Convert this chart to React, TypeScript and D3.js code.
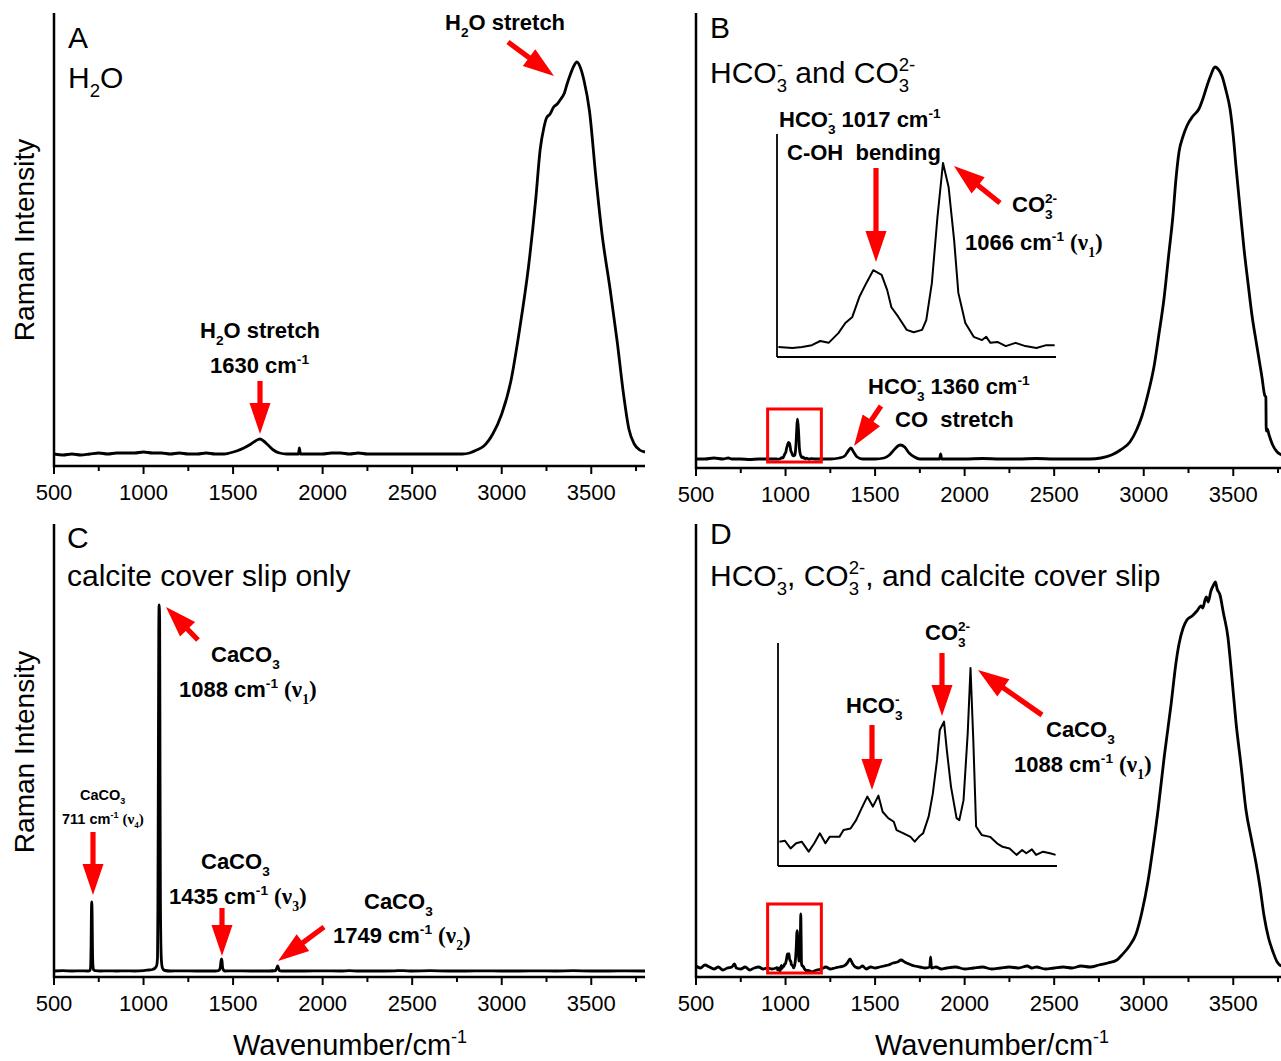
import React from "react";
import * as d3 from "d3";

type Pt = [number, number];

// [wavenumber cm-1, intensity a.u. above baseline]
const waterSpectrum: Pt[] = [
  [500, 0], [550, -1], [600, 0], [650, -1], [700, 0], [750, 1], [800, 0], [850, 1],
  [900, 1], [950, 1], [1000, 2], [1050, 1], [1100, 1], [1150, 0], [1200, 1], [1250, 0],
  [1300, 0], [1350, 1], [1400, 0], [1450, 0], [1480, 1], [1520, 3], [1560, 6], [1600, 10],
  [1625, 13], [1650, 15], [1670, 13], [1695, 9], [1725, 4], [1760, 1], [1800, 0], [1850, 0],
  [1865, 0], [1870, 6], [1876, 0], [1900, 0], [1950, 0], [2000, 0], [2050, 1], [2100, 1],
  [2150, 0], [2200, 1], [2250, 0], [2300, 0], [2400, 0], [2500, 0], [2600, 0], [2700, 0],
  [2780, 0], [2820, 1], [2860, 4], [2900, 8], [2950, 20], [3000, 40], [3050, 72], [3100, 125],
  [3150, 188], [3190, 255], [3215, 305], [3235, 326], [3250, 336], [3270, 340], [3290, 347],
  [3310, 350], [3330, 355], [3350, 361], [3365, 370], [3380, 378], [3400, 387], [3420, 392],
  [3440, 386], [3460, 373], [3490, 343], [3525, 278], [3560, 220], [3605, 165], [3645, 112],
  [3680, 60], [3710, 25], [3740, 10], [3770, 4], [3800, 2],
];

const bicarbSpectrum: Pt[] = [
  [500, 0], [550, 0], [600, 1], [650, 0], [680, 1], [700, 0], [750, 0], [800, -0.5],
  [850, 0], [900, 0], [925, 0],
  [948, 0], [958, -0.2], [965, 0], [972, 0.4], [978, 1.3], [984, 0.9], [991, 3], [996, 5.2],
  [1001, 6.5], [1006, 10.8], [1011, 13.8], [1016, 16.6], [1022, 15.6], [1026, 12.3],
  [1029, 8.6], [1034, 6.5], [1040, 3.7], [1045, 3.2], [1051, 3.7], [1054, 5.8], [1058, 13.8],
  [1062, 28], [1066, 39.8], [1070, 34.6], [1074, 23], [1077, 11.7], [1082, 5.2], [1088, 2.2],
  [1094, 1.5], [1097, 2.2], [1100, 0.9], [1105, 1.1], [1111, 0.2], [1118, 0.9], [1125, 0.2],
  [1133, -0.2], [1140, 0.4], [1146, 0.4],
  [1170, 0], [1200, 0], [1250, 0], [1300, 1], [1330, 3], [1350, 8], [1365, 11], [1380, 7],
  [1400, 2], [1430, 0], [1470, 0], [1500, 0], [1550, 1], [1580, 4], [1610, 10], [1640, 14],
  [1665, 12], [1690, 6], [1720, 2], [1750, 0], [1800, 0], [1860, 0], [1866, 5], [1872, 0],
  [1900, 0], [2000, 0], [2100, 0.5], [2200, 0], [2300, 0], [2400, 0.5], [2500, 0], [2600, 0],
  [2700, 0], [2761, 1], [2820, 4], [2870, 9], [2923, 17], [2960, 29], [2990, 43], [3025, 66],
  [3058, 93], [3085, 125], [3113, 160], [3140, 205], [3163, 243], [3180, 280], [3197, 307],
  [3220, 323], [3241, 333], [3275, 343], [3308, 350], [3330, 360], [3353, 373], [3375, 384],
  [3398, 392], [3415, 390], [3437, 383], [3460, 368], [3482, 350], [3500, 323], [3515, 293],
  [3537, 252], [3560, 210], [3583, 175], [3605, 143], [3628, 117], [3650, 93], [3660, 82],
  [3675, 64], [3682, 62], [3684, 28], [3690, 30], [3700, 24], [3720, 14], [3745, 7],
  [3770, 4], [3800, 2],
];

const calciteSpectrum: Pt[] = [
  [500, 0], [550, 0.3], [600, 0], [650, 0.2], [690, 0], [700, 0.5], [704, 3], [707, 25],
  [709, 60], [711, 69], [713, 55], [715, 20], [718, 4], [722, 1], [730, 0.3], [760, 0],
  [800, 0.2], [850, 0], [900, 0.2], [950, 0], [1000, 0.3], [1030, 1], [1050, 1.5], [1065, 3],
  [1074, 6], [1078, 14], [1080, 60], [1082, 160], [1085, 340], [1087, 366], [1090, 350],
  [1092, 200], [1094, 80], [1097, 25], [1100, 10], [1104, 4], [1110, 1.5], [1120, 0.5],
  [1150, 0], [1200, 0.2], [1300, 0], [1400, 0], [1420, 0.5], [1428, 3], [1432, 9], [1435, 12],
  [1438, 10], [1441, 4], [1446, 1], [1455, 0], [1500, 0.2], [1600, 0], [1700, 0], [1738, 0.5],
  [1744, 3], [1749, 5], [1753, 3], [1758, 0.5], [1770, 0], [1900, 0], [2000, 0.2], [2100, 0],
  [2150, 0.4], [2200, 0], [2300, 0], [2400, 0.2], [2450, 0.4], [2500, 0], [2600, 0.3],
  [2700, 0], [2800, 0], [2900, 0.2], [3000, 0], [3100, 0], [3200, 0.2], [3300, 0], [3400, 0.3],
  [3500, 0], [3600, 0], [3700, 0.2], [3800, 0],
];

const mixSpectrum: Pt[] = [
  [500, 2], [525, 0], [550, 3], [575, 1], [600, -1], [625, 1], [650, -2], [675, 0], [700, 1],
  [715, 4], [725, 0], [750, -1], [775, 1], [800, -2], [825, 0], [850, 1], [875, -1], [900, 0],
  [925, -1],
  [948, 0.1], [952, 0.4], [956, -2], [960, -0.4], [964, 0.1], [969, -3], [973, -0.4], [977, 2.7],
  [981, -0.4], [984, 1.6], [991, 1.6], [994, 3.7], [999, 4.2], [1003, 6.8], [1007, 10.5],
  [1011, 14.1], [1015, 11], [1019, 14.4], [1022, 9.4], [1026, 7.4], [1030, 6.3], [1032, 3.7],
  [1037, 2.7], [1042, 1.6], [1045, 0.1], [1048, 1.6], [1051, 2.7], [1055, 7.9], [1058, 15.1],
  [1061, 25.5], [1063, 34.8], [1066, 37.4], [1068, 28.6], [1071, 17.2], [1075, 7.4],
  [1077, 6.8], [1080, 13], [1083, 33.8], [1085, 54], [1087, 31.7], [1089, 4.8], [1093, 2.2],
  [1099, 1.6], [1104, -0.4], [1108, -1.5], [1113, -2], [1118, -4], [1122, -2.5], [1125, -3.5],
  [1129, -2.3], [1132, -4], [1137, -3], [1142, -3.5], [1146, -4],
  [1160, -3], [1175, -2], [1200, -1], [1225, 1], [1250, -1], [1275, 0], [1300, 1], [1325, 2],
  [1345, 5], [1360, 9], [1375, 4], [1390, 1], [1410, 0], [1430, 2], [1450, -1], [1475, 1],
  [1500, 0], [1525, 1], [1550, 2], [1575, 3], [1600, 5], [1625, 6], [1645, 8], [1665, 6],
  [1690, 4], [1720, 2], [1750, 1], [1780, 0], [1805, 1], [1810, 11], [1815, 0], [1840, 1],
  [1870, -1], [1900, 0], [1950, 1], [2000, -1], [2050, 0], [2100, 1], [2150, -1], [2200, 0],
  [2250, 1], [2300, 0], [2350, 2], [2375, 0], [2400, 1], [2450, -1], [2500, 0], [2550, 1],
  [2600, 0], [2650, 2], [2700, 1], [2750, 3], [2800, 5], [2850, 8], [2878, 13], [2920, 22],
  [2957, 34], [2990, 56], [3024, 87], [3050, 118], [3080, 158], [3115, 212], [3153, 264],
  [3180, 305], [3197, 324], [3220, 340], [3241, 348], [3270, 352], [3297, 357], [3320, 362],
  [3330, 360], [3342, 368], [3350, 371], [3360, 366], [3375, 377], [3390, 383], [3400, 386],
  [3410, 379], [3426, 373], [3445, 355], [3470, 331], [3490, 295], [3515, 246], [3545, 200],
  [3571, 158], [3600, 130], [3627, 105], [3650, 80], [3672, 52], [3697, 30], [3722, 16],
  [3745, 6], [3770, 2], [3800, 1],
];

const majorTicks = [500, 1000, 1500, 2000, 2500, 3000, 3500];
const minorTicks = [750, 1250, 1750, 2250, 2750, 3250, 3750];
const xDomain: [number, number] = [500, 3800];
const insetDomain: [number, number] = [947, 1147];
const boxRange: [number, number] = [900, 1200];

const SANS = "'Liberation Sans', Arial, Helvetica, sans-serif";
const SERIF = "'Liberation Serif', 'Times New Roman', serif";
const RED = "#ff0000";

type Part = { t: string; k?: "sub" | "sup"; stack?: boolean; serif?: boolean };
const n = (t: string): Part => ({ t });
const sub = (t: string): Part => ({ t, k: "sub" });
const sup = (t: string): Part => ({ t, k: "sup" });
const stk = (t: string): Part => ({ t, k: "sup", stack: true });
const nu = (d: string): Part[] => [
  n(" "),
  { t: "(ν", serif: true },
  { t: d, k: "sub", serif: true },
  { t: ")", serif: true },
];

// rough Arial advance widths for the small pieces
const adv = (s: string) =>
  [...s].reduce((a, c) => a + (c === "-" ? 0.333 : c === " " ? 0.278 : 0.556), 0);

function Rich(props: {
  x: number;
  y: number;
  size: number;
  bold?: boolean;
  anchor?: string;
  rotate?: boolean;
  parts: Part[];
}) {
  const { x, y, size, bold, anchor, rotate, parts } = props;
  let shift = 0;
  let prevSmall = "";
  let prevFs = size;
  let carry = 0;
  return (
    <text
      x={x}
      y={y}
      fontSize={size}
      fontFamily={SANS}
      fontWeight={bold ? 700 : 400}
      textAnchor={anchor || "start"}
      transform={rotate ? `rotate(-90 ${x} ${y})` : undefined}
      style={{ whiteSpace: "pre" }}
    >
      {parts.map((p, i) => {
        const fs = p.k ? size * 0.62 : size;
        const target = p.k === "sub" ? size * 0.3 : p.k === "sup" ? -size * 0.4 : 0;
        const dy = target - shift;
        shift = target;
        let dx = carry;
        carry = 0;
        if (p.stack) {
          const subW = adv(prevSmall) * prevFs;
          const supW = adv(p.t) * fs;
          dx = -subW;
          carry = Math.max(0, subW - supW);
        }
        prevSmall = p.k ? p.t : "";
        prevFs = fs;
        return (
          <tspan
            key={i}
            dy={dy}
            dx={dx}
            fontSize={p.serif && !p.k ? size * 1.05 : fs}
            fontFamily={p.serif ? SERIF : undefined}
          >
            {p.t}
          </tspan>
        );
      })}
    </text>
  );
}

function Arrow({ x1, y1, x2, y2 }: { x1: number; y1: number; x2: number; y2: number }) {
  const dx = x2 - x1;
  const dy = y2 - y1;
  const len = Math.hypot(dx, dy);
  const ux = dx / len;
  const uy = dy / len;
  const nx = -uy;
  const ny = ux;
  const sw = 2.6;
  const hw = 10.5;
  const hl = 31;
  const bx = x2 - ux * hl;
  const by = y2 - uy * hl;
  const pts = [
    [x1 + nx * sw, y1 + ny * sw],
    [bx + nx * sw, by + ny * sw],
    [bx + nx * hw, by + ny * hw],
    [x2, y2],
    [bx - nx * hw, by - ny * hw],
    [bx - nx * sw, by - ny * sw],
    [x1 - nx * sw, y1 - ny * sw],
  ];
  return <polygon points={pts.map((p) => p.join(",")).join(" ")} fill={RED} />;
}

type PanelCfg = {
  data: Pt[];
  xr: [number, number];
  yr: [number, number];
  yd: [number, number];
  box?: [number, number];
};

function Panel({ cfg }: { cfg: PanelCfg }) {
  const x = d3.scaleLinear().domain(xDomain).range(cfg.xr);
  const y = d3.scaleLinear().domain(cfg.yd).range(cfg.yr);
  const line = d3
    .line<Pt>()
    .x((d) => x(d[0]))
    .y((d) => y(d[1]))
    .curve(d3.curveMonotoneX);
  const axisY = cfg.yr[0];
  return (
    <g>
      <path d={line(cfg.data) || ""} fill="none" stroke="#000" strokeWidth={2.8} strokeLinejoin="round" />
      {cfg.box && (
        <rect
          x={x(boxRange[0])}
          y={y(cfg.box[1])}
          width={x(boxRange[1]) - x(boxRange[0])}
          height={y(cfg.box[0]) - y(cfg.box[1])}
          fill="none"
          stroke={RED}
          strokeWidth={3}
        />
      )}
      <line x1={cfg.xr[0]} x2={cfg.xr[1]} y1={axisY} y2={axisY} stroke="#000" strokeWidth={2.5} />
      <line x1={cfg.xr[0]} x2={cfg.xr[0]} y1={cfg.yr[1]} y2={axisY + 1.25} stroke="#000" strokeWidth={2.5} />
      {majorTicks.map((t) => (
        <line key={"M" + t} x1={x(t)} x2={x(t)} y1={axisY} y2={axisY + 8} stroke="#000" strokeWidth={2} />
      ))}
      {minorTicks.map((t) => (
        <line key={"m" + t} x1={x(t)} x2={x(t)} y1={axisY} y2={axisY + 5} stroke="#000" strokeWidth={2} />
      ))}
      {majorTicks.map((t) => (
        <text key={"l" + t} x={x(t)} y={axisY + 34} textAnchor="middle" fontSize={22} fontFamily={SANS}>
          {t}
        </text>
      ))}
    </g>
  );
}

function Inset({ data, xr, yr, yd }: { data: Pt[]; xr: [number, number]; yr: [number, number]; yd: [number, number] }) {
  const x = d3.scaleLinear().domain(insetDomain).range(xr);
  const y = d3.scaleLinear().domain(yd).range(yr);
  const pts = data.filter((d) => d[0] >= insetDomain[0] && d[0] <= insetDomain[1]);
  const line = d3
    .line<Pt>()
    .x((d) => x(d[0]))
    .y((d) => y(d[1]));
  return (
    <g>
      <path d={line(pts) || ""} fill="none" stroke="#000" strokeWidth={2} strokeLinejoin="round" />
      <line x1={xr[0]} x2={xr[0]} y1={yr[1]} y2={yr[0]} stroke="#000" strokeWidth={1.8} />
      <line x1={xr[0]} x2={xr[1]} y1={yr[0]} y2={yr[0]} stroke="#000" strokeWidth={1.8} />
    </g>
  );
}

const B = 22; // bold annotation size

export default function App() {
  return (
    <svg
      width={1281}
      height={1061}
      style={{ position: "absolute", left: 0, top: 0, background: "#fff" }}
    >
      <rect width={1281} height={1061} fill="#fff" />

      {/* A */}
      <Panel cfg={{ data: waterSpectrum, xr: [54, 645], yr: [466, 13], yd: [-12, 441] }} />
      <Rich x={68} y={48} size={30} parts={[n("A")]} />
      <Rich x={68} y={88} size={30} parts={[n("H"), sub("2"), n("O")]} />
      <Rich x={445} y={30} size={B} bold parts={[n("H"), sub("2"), n("O stretch")]} />
      <Arrow x1={508} y1={42} x2={554} y2={76} />
      <Rich x={200} y={338} size={B} bold parts={[n("H"), sub("2"), n("O stretch")]} />
      <Rich x={210} y={373} size={B} bold parts={[n("1630 cm"), sup("-1")]} />
      <Arrow x1={260} y1={381} x2={260} y2={434} />
      <Rich x={34} y={240} size={28} anchor="middle" rotate parts={[n("Raman Intensity")]} />

      {/* B */}
      <Panel cfg={{ data: bicarbSpectrum, xr: [696, 1287], yr: [468, 13], yd: [-9, 446], box: [-3, 50] }} />
      <Inset data={bicarbSpectrum} xr={[777, 1056]} yr={[357, 134]} yd={[-2.16, 46.05]} />
      <Rich x={710} y={38} size={30} parts={[n("B")]} />
      <Rich x={710} y={83} size={30} parts={[n("HCO"), sub("3"), stk("-"), n(" and CO"), sub("3"), stk("2-")]} />
      <Rich x={779} y={127} size={B} bold parts={[n("HCO"), sub("3"), stk("-"), n(" 1017 cm"), sup("-1")]} />
      <Rich x={787} y={160} size={B} bold parts={[n("C-OH  bending")]} />
      <Arrow x1={876} y1={168} x2={876} y2={262} />
      <Arrow x1={1000} y1={203} x2={954} y2={166} />
      <Rich x={1012} y={212} size={B} bold parts={[n("CO"), sub("3"), stk("2-")]} />
      <Rich x={965} y={250} size={B} bold parts={[n("1066 cm"), sup("-1"), ...nu("1")]} />
      <Rich x={868} y={394} size={B} bold parts={[n("HCO"), sub("3"), stk("-"), n(" 1360 cm"), sup("-1")]} />
      <Rich x={895} y={427} size={B} bold parts={[n("CO  stretch")]} />
      <Arrow x1={881} y1={406} x2={854} y2={446} />

      {/* C */}
      <Panel cfg={{ data: calciteSpectrum, xr: [54, 645], yr: [977, 524], yd: [-6, 447] }} />
      <Rich x={67} y={548} size={30} parts={[n("C")]} />
      <Rich x={67} y={586} size={30} parts={[n("calcite cover slip only")]} />
      <Arrow x1={198} y1={640} x2={166} y2={607} />
      <Rich x={211} y={662} size={B} bold parts={[n("CaCO"), sub("3")]} />
      <Rich x={179} y={697} size={B} bold parts={[n("1088 cm"), sup("-1"), ...nu("1")]} />
      <Rich x={80} y={800} size={14.5} bold parts={[n("CaCO"), sub("3")]} />
      <Rich x={62} y={824} size={14.5} bold parts={[n("711 cm"), sup("-1"), ...nu("4")]} />
      <Arrow x1={93} y1={832} x2={93} y2={895} />
      <Rich x={201} y={869} size={B} bold parts={[n("CaCO"), sub("3")]} />
      <Rich x={169} y={904} size={B} bold parts={[n("1435 cm"), sup("-1"), ...nu("3")]} />
      <Arrow x1={222} y1={908} x2={222} y2={956} />
      <Rich x={364} y={909} size={B} bold parts={[n("CaCO"), sub("3")]} />
      <Rich x={333} y={943} size={B} bold parts={[n("1749 cm"), sup("-1"), ...nu("2")]} />
      <Arrow x1={324} y1={927} x2={278} y2={961} />
      <Rich x={34} y={752} size={28} anchor="middle" rotate parts={[n("Raman Intensity")]} />
      <Rich x={350} y={1055} size={29} anchor="middle" parts={[n("Wavenumber/cm"), sup("-1")]} />

      {/* D */}
      <Panel cfg={{ data: mixSpectrum, xr: [696, 1287], yr: [977, 524], yd: [-9, 444], box: [-5, 64] }} />
      <Inset data={mixSpectrum} xr={[778, 1057]} yr={[866, 643]} yd={[-7.45, 61.8]} />
      <Rich x={710} y={544} size={30} parts={[n("D")]} />
      <Rich
        x={710}
        y={586}
        size={30}
        parts={[n("HCO"), sub("3"), stk("-"), n(", CO"), sub("3"), stk("2-"), n(", and calcite cover slip")]}
      />
      <Rich x={925} y={640} size={B} bold parts={[n("CO"), sub("3"), stk("2-")]} />
      <Arrow x1={942} y1={653} x2={942} y2={716} />
      <Rich x={846} y={713} size={B} bold parts={[n("HCO"), sub("3"), stk("-")]} />
      <Arrow x1={872} y1={725} x2={872} y2={790} />
      <Arrow x1={1042} y1={715} x2={978} y2={670} />
      <Rich x={1046} y={737} size={B} bold parts={[n("CaCO"), sub("3")]} />
      <Rich x={1014} y={772} size={B} bold parts={[n("1088 cm"), sup("-1"), ...nu("1")]} />
      <Rich x={992} y={1055} size={29} anchor="middle" parts={[n("Wavenumber/cm"), sup("-1")]} />
    </svg>
  );
}
